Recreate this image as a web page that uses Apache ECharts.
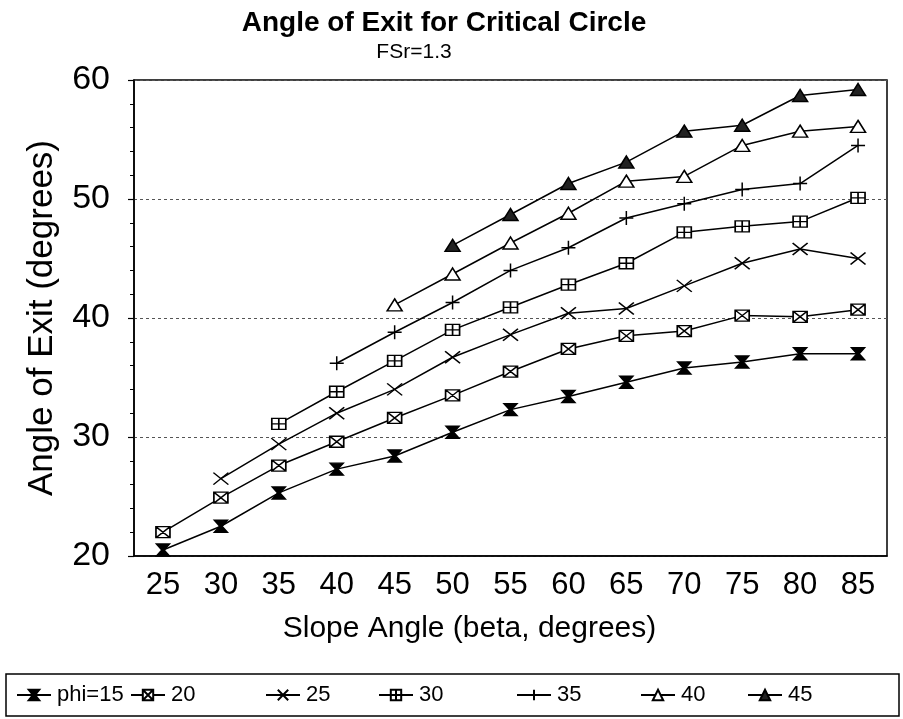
<!DOCTYPE html>
<html>
<head>
<meta charset="utf-8">
<title>Angle of Exit for Critical Circle</title>
<script src="https://cdn.jsdelivr.net/npm/echarts@6/dist/echarts.min.js"></script>
<style>
    html, body {margin: 0; padding: 0; background: #fff;}
    #main {width: 903px; height: 719px;}
</style>
</head>
<body>
<div id="main"></div>
<script>
const slopes = ['25', '30', '35', '40', '45', '50', '55', '60', '65', '70', '75', '80', '85']

// one list per phi value, null where no point was plotted
const phi15 = [20.5, 22.5, 25.3, 27.3, 28.4, 30.4, 32.3, 33.4, 34.6, 35.8, 36.3, 37.0, 37.0]
const phi20 = [22.0, 24.9, 27.6, 29.6, 31.6, 33.5, 35.5, 37.4, 38.5, 38.9, 40.2, 40.1, 40.7]
const phi25 = [null, 26.5, 29.4, 32.0, 34.0, 36.7, 38.6, 40.4, 40.8, 42.7, 44.6, 45.8, 45.0]
const phi30 = [null, null, 31.1, 33.8, 36.4, 39.0, 40.9, 42.8, 44.6, 47.2, 47.7, 48.1, 50.1]
const phi35 = [null, null, null, 36.2, 38.8, 41.3, 44.0, 45.9, 48.4, 49.6, 50.8, 51.3, 54.5]
const phi40 = [null, null, null, null, 41.1, 43.7, 46.3, 48.8, 51.5, 51.9, 54.5, 55.7, 56.1]
const phi45 = [null, null, null, null, null, 46.1, 48.7, 51.3, 53.1, 55.7, 56.2, 58.7, 59.2]

const yTicks = [20, 30, 40, 50, 60]
const legendNames = ['phi=15', '20', '25', '30', '35', '40', '45']

const FONT = '"Liberation Sans", Arial, sans-serif'

const marks = {
    hourglass: 'path://M0,0L12,0L7,6L12,12L0,12L5,6Z',
    boxCross: 'path://M0,0H12V10H0Z M0,0L12,10 M12,0L0,10',
    cross: 'path://M0,0L12,10 M12,0L0,10',
    boxPlus: 'path://M0,0H12V10H0Z M6,0V10 M0,5H12',
    plus: 'path://M6,0V12 M0,6H12'
}

const makeSeries = (name, data, symbol, size, fill) => ({
    name: name,
    type: 'line',
    data: data,
    symbol: symbol,
    symbolSize: size,
    showSymbol: true,
    lineStyle: {color: '#000', width: 1.5},
    itemStyle: {color: fill, borderColor: '#000', borderWidth: 1.5},
    emphasis: {disabled: true},
    animation: false
})

const series = [
    makeSeries('phi=15', phi15, marks.hourglass, [13, 12], '#000'),
    makeSeries('20', phi20, marks.boxCross, [14, 11], '#fff'),
    makeSeries('25', phi25, marks.cross, [15, 12], '#000'),
    makeSeries('30', phi30, marks.boxPlus, [14, 11], '#fff'),
    makeSeries('35', phi35, marks.plus, [14, 14], '#000'),
    makeSeries('40', phi40, 'triangle', [15, 12], '#fff'),
    makeSeries('45', phi45, 'triangle', [15, 12], '#222')
]

// legend items sit at uneven spacing in the original, so one legend per item
const legendLeft = [16, 130, 265, 378, 516, 640, 747]
const legends = legendNames.map((n, i) => ({
    data: [n],
    left: legendLeft[i],
    top: 684,
    itemWidth: 34,
    itemHeight: 13,
    padding: 0,
    selectedMode: false,
    textStyle: {fontFamily: FONT, fontSize: 22, color: '#000', padding: [0, 0, 0, 1]}
}))

const chart = echarts.init(document.getElementById('main'))
chart.setOption({
    backgroundColor: '#fff',
    animation: false,
    title: [
        {
            text: 'Angle of Exit for Critical Circle',
            left: 439,
            top: 4,
            textAlign: 'center',
            textStyle: {fontFamily: FONT, fontSize: 28, fontWeight: 'bold', color: '#000'}
        },
        {
            text: 'FSr=1.3',
            left: 409,
            top: 37,
            textAlign: 'center',
            textStyle: {fontFamily: FONT, fontSize: 21, fontWeight: 'normal', color: '#000'}
        }
    ],
    legend: legends,
    graphic: [{
        type: 'rect',
        shape: {x: 6, y: 674, width: 893, height: 42},
        style: {fill: 'none', stroke: '#000', lineWidth: 1.5},
        silent: true
    }],
    grid: {
        left: 134,
        right: 16,
        top: 80,
        bottom: 163,
        show: true,
        borderColor: '#000',
        borderWidth: 1.5
    },
    xAxis: {
        type: 'category',
        data: slopes,
        boundaryGap: true,
        name: 'Slope Angle (beta, degrees)',
        nameLocation: 'middle',
        nameGap: 58,
        nameTextStyle: {fontFamily: FONT, fontSize: 30, color: '#000', padding: [0, 82, 0, 0]},
        axisLine: {lineStyle: {color: '#000', width: 1.5}},
        axisTick: {alignWithLabel: true, inside: true, length: 10, lineStyle: {color: '#000', width: 1.2}},
        axisLabel: {fontFamily: FONT, fontSize: 31, color: '#000', margin: 14},
        splitLine: {show: false}
    },
    yAxis: {
        type: 'value',
        min: yTicks[0],
        max: yTicks[yTicks.length - 1],
        interval: 10,
        name: 'Angle of Exit (degrees)',
        nameLocation: 'middle',
        nameGap: 74,
        nameTextStyle: {fontFamily: FONT, fontSize: 35, color: '#000'},
        axisLine: {show: true, lineStyle: {color: '#000', width: 1.5}},
        axisTick: {show: true, length: 6, lineStyle: {color: '#000', width: 1.2}},
        minorTick: {show: true, splitNumber: 5, length: 4, lineStyle: {color: '#000', width: 1}},
        axisLabel: {fontFamily: FONT, fontSize: 34, color: '#000', margin: 24},
        splitLine: {show: true, lineStyle: {color: '#555', width: 1, type: [3, 3]}}
    },
    tooltip: {show: false},
    series: series
})
</script>
</body>
</html>
